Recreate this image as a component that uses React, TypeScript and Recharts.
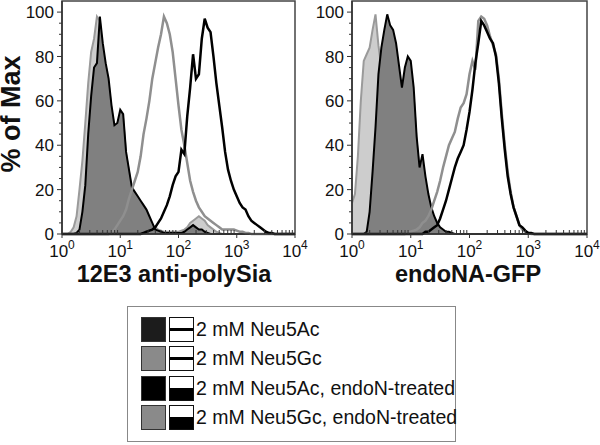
import React from 'react';
import { ComposedChart, Area, Line, XAxis, YAxis, ReferenceArea } from 'recharts';

// log10 of fluorescence, bin centres
const logBins = [
  0, 0.05, 0.1, 0.15, 0.2, 0.25, 0.3, 0.35, 0.4, 0.45,
  0.5, 0.55, 0.6, 0.65, 0.7, 0.75, 0.8, 0.85, 0.9, 0.95,
  1, 1.05, 1.1, 1.15, 1.2, 1.25, 1.3, 1.35, 1.4, 1.45,
  1.5, 1.55, 1.6, 1.65, 1.7, 1.75, 1.8, 1.85, 1.9, 1.95,
  2, 2.05, 2.1, 2.15, 2.2, 2.25, 2.3, 2.35, 2.4, 2.45,
  2.5, 2.55, 2.6, 2.65, 2.7, 2.75, 2.8, 2.85, 2.9, 2.95,
  3, 3.05, 3.1, 3.15, 3.2, 3.25, 3.3, 3.35, 3.4, 3.45,
  3.5, 3.55, 3.6, 3.65, 3.7, 3.75, 3.8, 3.85, 3.9, 3.95,
  4,
];

// panel 1: 12E3 anti-polySia
const polySiaGcEndo = [
  0, 0, 0, 1, 3, 8, 20, 33, 50, 68,
  82, 88, 98, 96, 82, 76, 68, 56, 48, 49,
  54, 52, 36, 28, 20, 18, 16, 14, 12, 10,
  7, 4, 3, 2, 1.5, 1, 1, 1, 1, 1,
  1, 1.5, 2, 3, 5, 6, 7, 8, 7, 6,
  4, 3, 2, 1, 0.5, 0, 0, 0, 0, 0,
  0, 0, 0, 0, 0, 0, 0, 0, 0, 0,
  0, 0, 0, 0, 0, 0, 0, 0, 0, 0,
  0,
];
const polySiaAcEndo = [
  0, 0, 0, 0, 0, 0.5, 2, 10, 22, 45,
  62, 75, 77, 98, 86, 77, 70, 58, 49, 50,
  56, 54, 37, 29, 21, 19, 17, 15, 13, 11,
  8, 5, 2, 1.5, 1, 0.5, 0.5, 0.5, 0.5, 0.5,
  0.5, 0.5, 1, 2, 3, 4, 3, 2, 2, 1,
  0.5, 0, 0, 0, 0, 0, 0, 0, 0, 0,
  0, 0, 0, 0, 0, 0, 0, 0, 0, 0,
  0, 0, 0, 0, 0, 0, 0, 0, 0, 0,
  0,
];
const polySiaGc = [
  0, 0, 0, 0, 0, 0, 0, 0, 0, 0,
  0, 0, 0, 0, 0, 0, 0, 0.5, 2, 4,
  6, 8, 11, 16, 20, 24, 28, 35, 45, 52,
  60, 70, 77, 84, 90, 98, 95, 90, 82, 70,
  58, 47, 40, 32, 24, 19, 15, 12, 10, 8,
  7, 6, 5, 4, 3, 2, 2, 2, 2, 2,
  1.5, 1, 1, 0.5, 0.5, 0, 0, 0, 0, 0,
  0, 0, 0, 0, 0, 0, 0, 0, 0, 0,
  0,
];
const polySiaAc = [
  0, 0, 0, 0, 0, 0, 0, 0, 0, 0,
  0, 0, 0, 0, 0, 0, 0, 0, 0, 0,
  0, 0, 0, 0, 0, 0, 0, 0, 0.5, 1,
  1.5, 2, 3, 5, 7, 10, 13, 17, 22, 26,
  28, 38, 36, 53, 66, 81, 70, 72, 88, 97,
  93, 91, 80, 68, 58, 48, 37, 29, 24, 20,
  17, 14, 12, 11, 8, 6, 5, 4, 3, 2,
  1, 0.5, 0.5, 0, 0, 0, 0, 0, 0, 0,
  0,
];

// panel 2: endoNA-GFP
const gfpGcEndo = [
  14, 18, 35, 60, 78, 81, 84, 92, 99, 85,
  75, 72, 80, 88, 88, 84, 72, 64, 72, 76,
  74, 62, 42, 28, 32, 24, 16, 10, 6, 3,
  2, 1, 0.5, 0, 0, 0, 0, 0, 0, 0,
  0, 0, 0, 0, 0, 0, 0, 0, 0, 0,
  0, 0, 0, 0, 0, 0, 0, 0, 0, 0,
  0, 0, 0, 0, 0, 0, 0, 0, 0, 0,
  0, 0, 0, 0, 0, 0, 0, 0, 0, 0,
  0,
];
const gfpAcEndo = [
  0, 0, 0, 0, 0, 1, 10, 28, 48, 72,
  84, 92, 99, 94, 92, 86, 76, 66, 75, 80,
  78, 66, 44, 30, 36, 26, 18, 12, 8, 5,
  3, 2, 1, 1, 0.5, 0, 0, 0, 0, 0,
  0, 0, 0, 0, 0, 0, 0, 0, 0, 0,
  0, 0, 0, 0, 0, 0, 0, 0, 0, 0,
  0, 0, 0, 0, 0, 0, 0, 0, 0, 0,
  0, 0, 0, 0, 0, 0, 0, 0, 0, 0,
  0,
];
const gfpGc = [
  0, 0, 0, 0, 0, 0, 0, 0, 0, 0,
  0, 0, 0, 0, 0, 0, 0, 0, 0, 0.5,
  1, 1.5, 2, 3, 5, 6, 8, 11, 15, 19,
  24, 30, 35, 40, 43, 46, 52, 57, 59, 63,
  72, 78, 74, 96, 98, 97, 94, 89, 85, 81,
  70, 54, 40, 28, 19, 12, 8, 4, 2, 1,
  0.5, 0, 0, 0, 0, 0, 0, 0, 0, 0,
  0, 0, 0, 0, 0, 0, 0, 0, 0, 0,
  0,
];
const gfpAc = [
  0, 0, 0, 0, 0, 0, 0, 0, 0, 0,
  0, 0, 0, 0, 0, 0, 0, 0, 0, 0,
  0, 0, 0, 0, 0, 1, 1, 2, 3, 4,
  7, 11, 15, 20, 25, 30, 34, 37, 40, 47,
  55, 65, 77, 86, 96, 94, 91, 88, 86, 80,
  68, 52, 38, 26, 18, 12, 8, 4, 3, 1.5,
  0.5, 0.5, 0, 0, 0, 0, 0, 0, 0, 0,
  0, 0, 0, 0, 0, 0, 0, 0, 0, 0,
  0,
];

const decades = [0, 1, 2, 3, 4];
const minorMultipliers = [2, 3, 4, 5, 6, 7, 8, 9];
const yTicks = [0, 5, 10, 15, 20, 25, 30, 35, 40, 45, 50, 55, 60, 65, 70, 75, 80, 85, 90, 95, 100];
const yLabelTicks = [0, 20, 40, 60, 80, 100];

const legendLabels = [
  '2 mM Neu5Ac',
  '2 mM Neu5Gc',
  '2 mM Neu5Ac, endoN-treated',
  '2 mM Neu5Gc, endoN-treated',
];
const legendTreated = [false, false, true, true];

const FONT = '"Liberation Sans", Arial, Helvetica, sans-serif';
const legendSwatchColors = ['#1c1c1c', '#8a8a8a', '#000000', '#8a8a8a'];

const xTicks = [
  ...decades,
  ...decades.slice(0, 4).flatMap((d) => minorMultipliers.map((m) => d + Math.log10(m))),
].sort((a, b) => a - b);

const buildRows = (gcEndo: number[], acEndo: number[], gc: number[], ac: number[]) =>
  logBins.map((x, i) => ({ x, gcEndo: gcEndo[i], acEndo: acEndo[i], gc: gc[i], ac: ac[i] }));

const polySiaRows = buildRows(polySiaGcEndo, polySiaAcEndo, polySiaGc, polySiaAc);
const gfpRows = buildRows(gfpGcEndo, gfpAcEndo, gfpGc, gfpAc);

const XTick = (props: any) => {
  const { x, y, payload } = props;
  const v = payload.value;
  const major = Math.abs(v - Math.round(v)) < 1e-6;
  if (!major) {
    return <line x1={x} x2={x} y1={y} y2={y - 4} stroke="#333" strokeWidth={1} />;
  }
  return (
    <g>
      <line x1={x} x2={x} y1={y} y2={y + 4} stroke="#333" strokeWidth={1} />
      <text x={x} y={y + 23} textAnchor="middle" fill="#111" fontFamily={FONT} fontSize={17}>
        10
        <tspan fontSize={12} dy={-8}>{Math.round(v)}</tspan>
      </text>
    </g>
  );
};

const YTick = (props: any) => {
  const { x, y, payload } = props;
  const v = payload.value;
  const major = yLabelTicks.includes(v);
  return (
    <g>
      <line x1={x - (major ? 5 : 3)} x2={x} y1={y} y2={y} stroke="#333" strokeWidth={1} />
      {major && (
        <text x={x - 8} y={y} dy="0.36em" textAnchor="end" fill="#111" fontFamily={FONT} fontSize={17}>
          {v}
        </text>
      )}
    </g>
  );
};

const Histogram = ({ rows, right }: { rows: any[]; right: number }) => (
  <ComposedChart width={315} height={300} data={rows} margin={{ top: 1, right, bottom: 0, left: 0 }}>
    <XAxis
      dataKey="x"
      type="number"
      domain={[0, 4]}
      ticks={xTicks}
      interval={0}
      height={66}
      tickSize={0}
      tickMargin={0}
      tick={XTick}
      axisLine={{ stroke: '#333', strokeWidth: 1.5 }}
    />
    <YAxis
      type="number"
      domain={[0, 105]}
      ticks={yTicks}
      interval={0}
      width={62}
      tickSize={0}
      tickMargin={0}
      tick={YTick}
      axisLine={{ stroke: '#333', strokeWidth: 1.5 }}
    />
    <Area dataKey="gcEndo" type="linear" stroke="#9a9a9a" strokeWidth={2} fill="#cdcdcd" fillOpacity={1} dot={false} activeDot={false} isAnimationActive={false} />
    <Area dataKey="acEndo" type="linear" stroke="#000" strokeWidth={2} fill="#808080" fillOpacity={1} dot={false} activeDot={false} isAnimationActive={false} />
    <Line dataKey="gc" type="linear" stroke="#8f8f8f" strokeWidth={2.5} dot={false} activeDot={false} isAnimationActive={false} />
    <Line dataKey="ac" type="linear" stroke="#000" strokeWidth={2.5} dot={false} activeDot={false} isAnimationActive={false} />
    <ReferenceArea x1={0} x2={4} y1={0} y2={105} fill="none" stroke="#444" strokeWidth={1.5} />
  </ComposedChart>
);

const Swatch = ({ color, treated }: { color: string; treated: boolean }) => (
  <div style={{ display: 'flex', gap: 3 }}>
    <div style={{ width: 23, height: 23, background: color, border: '1px solid #333' }} />
    <div style={{ width: 23, height: 23, border: '1px solid #111', background: '#fff', position: 'relative' }}>
      {treated ? (
        <div style={{ position: 'absolute', left: 0, right: 0, bottom: 0, height: 12, background: '#000' }} />
      ) : (
        <div style={{ position: 'absolute', left: 0, right: 0, top: 10, height: 3, background: '#000' }} />
      )}
    </div>
  </div>
);

export default function App() {
  return (
    <div style={{ position: 'absolute', left: 0, top: 0, width: 600, height: 445, background: '#fff', fontFamily: FONT, overflow: 'hidden' }}>
      <div style={{ position: 'absolute', left: 0, top: 0 }}>
        <Histogram rows={polySiaRows} right={20} />
      </div>
      <div style={{ position: 'absolute', left: 290, top: 0 }}>
        <Histogram rows={gfpRows} right={18} />
      </div>

      <div
        style={{
          position: 'absolute', left: 10.5, top: 114, transform: 'translate(-50%, -50%) rotate(-90deg)',
          fontSize: 27, fontWeight: 'bold', lineHeight: '20px', whiteSpace: 'nowrap', color: '#111',
        }}
      >
        % of Max
      </div>
      <div style={{ position: 'absolute', left: 174, top: 263, transform: 'translateX(-50%)', fontSize: 23.5, fontWeight: 'bold', lineHeight: 1, whiteSpace: 'nowrap', color: '#111' }}>
        12E3 anti-polySia
      </div>
      <div style={{ position: 'absolute', left: 468, top: 263, transform: 'translateX(-50%)', fontSize: 23.5, fontWeight: 'bold', lineHeight: 1, whiteSpace: 'nowrap', color: '#111' }}>
        endoNA-GFP
      </div>

      <div style={{ position: 'absolute', left: 127, top: 306, width: 329, height: 136, border: '1px solid #888', boxSizing: 'border-box' }}>
        {legendLabels.map((label, i) => (
          <div key={label} style={{ position: 'absolute', left: 13, top: 10 + i * 29.3, display: 'flex', alignItems: 'center', height: 25 }}>
            <Swatch color={legendSwatchColors[i]} treated={legendTreated[i]} />
            <span style={{ marginLeft: 2, fontSize: 19.5, color: '#111', whiteSpace: 'nowrap' }}>{label}</span>
          </div>
        ))}
      </div>
    </div>
  );
}
